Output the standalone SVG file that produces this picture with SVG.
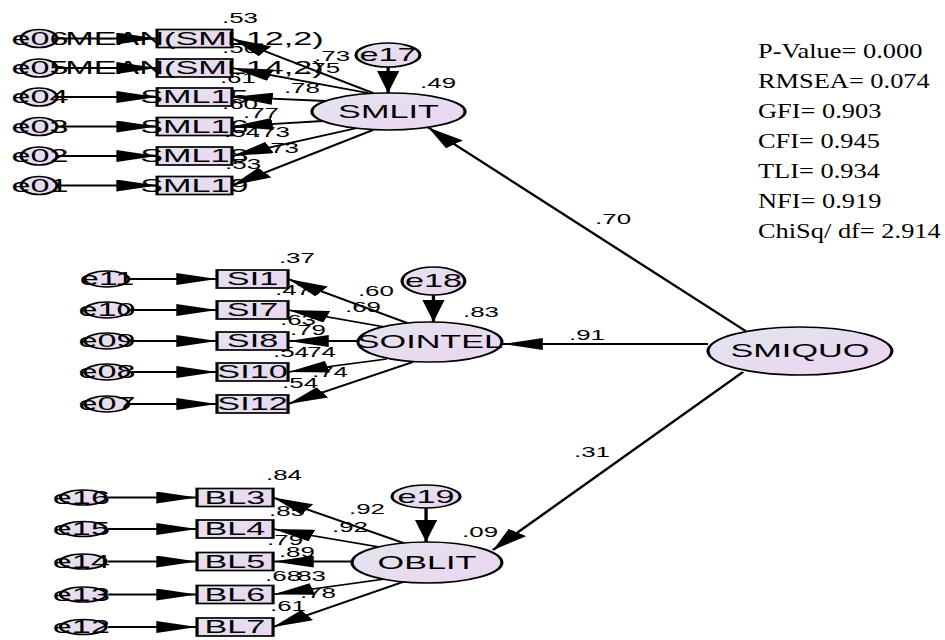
<svg xmlns="http://www.w3.org/2000/svg" width="945" height="640" viewBox="0 0 945 640">
<defs>
<linearGradient id="g" x1="0" y1="0" x2="1" y2="1">
<stop offset="0" stop-color="#e3e6ef"/>
<stop offset="1" stop-color="#ecd3f1"/>
</linearGradient>
<marker id="ah" markerUnits="userSpaceOnUse" viewBox="0 0 22 12" markerWidth="22" markerHeight="12" refX="22" refY="6" orient="auto">
<path d="M0,0 L22,6 L0,12 Z" fill="#000"/>
</marker>
</defs>
<style>
.n{fill:url(#g);stroke:#000;stroke-width:1.7}
.c{stroke:#000;stroke-width:1.8;fill:none;marker-end:url(#ah)}
.t{font-family:"Liberation Sans",Arial,sans-serif;font-size:18.5px;text-anchor:middle;fill:#000}
.v{font-family:"Liberation Sans",Arial,sans-serif;font-size:14px;text-anchor:middle;fill:#000}
.f{font-family:"Liberation Serif","Times New Roman",serif;font-size:22px;fill:#000}
</style>
<rect width="945" height="640" fill="#fff"/>
<g transform="scale(1.85,1)">
<g id="estimates">
<text x="129.7" y="23" class="v">.53</text>
<text x="179.5" y="61" class="v">.73</text>
<text x="129.7" y="53" class="v">.56</text>
<text x="174.1" y="73" class="v">.75</text>
<text x="128.6" y="83" class="v">.61</text>
<text x="163.2" y="93" class="v">.78</text>
<text x="129.7" y="109" class="v">.60</text>
<text x="141.1" y="118" class="v">.77</text>
<text x="130.8" y="137" class="v">.54</text>
<text x="147" y="137" class="v">.73</text>
<text x="151.9" y="153" class="v">.73</text>
<text x="131.4" y="169" class="v">.53</text>
<text x="236.8" y="88" class="v">.49</text>
<text x="160.5" y="263" class="v">.37</text>
<text x="203.2" y="296" class="v">.60</text>
<text x="158.4" y="295" class="v">.47</text>
<text x="196.2" y="312" class="v">.69</text>
<text x="161.1" y="325" class="v">.63</text>
<text x="166.5" y="335" class="v">.79</text>
<text x="157.3" y="357" class="v">.54</text>
<text x="171.9" y="357" class="v">.74</text>
<text x="178.4" y="377" class="v">.74</text>
<text x="162.2" y="388" class="v">.54</text>
<text x="260" y="317" class="v">.83</text>
<text x="153.5" y="480" class="v">.84</text>
<text x="198.4" y="514" class="v">.92</text>
<text x="155.1" y="516" class="v">.85</text>
<text x="189.2" y="532" class="v">.92</text>
<text x="154.1" y="545" class="v">.79</text>
<text x="160.5" y="557" class="v">.89</text>
<text x="153" y="581" class="v">.68</text>
<text x="166.5" y="581" class="v">.83</text>
<text x="171.9" y="598" class="v">.78</text>
<text x="155.7" y="611" class="v">.61</text>
<text x="259.5" y="537" class="v">.09</text>
<text x="331.4" y="224" class="v">.70</text>
<text x="317.3" y="340" class="v">.91</text>
<text x="320" y="457" class="v">.31</text>
</g>
<g id="connectors">
<line class="c" x1="30.8" y1="38.5" x2="84.9" y2="38.5"/>
<line class="c" x1="30.8" y1="68" x2="84.9" y2="68"/>
<line class="c" x1="30.8" y1="97" x2="84.9" y2="97"/>
<line class="c" x1="30.8" y1="126.5" x2="84.9" y2="126.5"/>
<line class="c" x1="30.8" y1="156" x2="84.9" y2="156"/>
<line class="c" x1="30.8" y1="185.5" x2="84.9" y2="185.5"/>
<line class="c" x1="201.6" y1="93" x2="125.4" y2="38.5"/>
<line class="c" x1="198.9" y1="93" x2="125.4" y2="68"/>
<line class="c" x1="176" y1="101" x2="125.4" y2="97"/>
<line class="c" x1="174.5" y1="121" x2="125.4" y2="126.5"/>
<line class="c" x1="193" y1="128" x2="125.4" y2="156"/>
<line class="c" x1="201.6" y1="130" x2="125.4" y2="185.5"/>
<line class="c" x1="209.8" y1="67" x2="209.8" y2="93"/>
<line class="c" x1="70.3" y1="279" x2="117.3" y2="279"/>
<line class="c" x1="70.3" y1="310" x2="117.3" y2="310"/>
<line class="c" x1="70.3" y1="341" x2="117.3" y2="341"/>
<line class="c" x1="70.3" y1="372" x2="117.3" y2="372"/>
<line class="c" x1="70.3" y1="404" x2="117.3" y2="404"/>
<line class="c" x1="221.6" y1="324" x2="155.7" y2="279"/>
<line class="c" x1="208" y1="327" x2="155.7" y2="310"/>
<line class="c" x1="193.5" y1="341" x2="155.7" y2="341"/>
<line class="c" x1="209" y1="359" x2="155.7" y2="372"/>
<line class="c" x1="223.2" y1="362" x2="155.7" y2="404"/>
<line class="c" x1="234.3" y1="295" x2="234.3" y2="322"/>
<line class="c" x1="58.4" y1="497.5" x2="106.5" y2="497.5"/>
<line class="c" x1="58.4" y1="529" x2="106.5" y2="529"/>
<line class="c" x1="58.4" y1="561.5" x2="106.5" y2="561.5"/>
<line class="c" x1="58.4" y1="594.5" x2="106.5" y2="594.5"/>
<line class="c" x1="58.4" y1="627" x2="106.5" y2="627"/>
<line class="c" x1="218.9" y1="543.5" x2="147.6" y2="497.5"/>
<line class="c" x1="205" y1="547" x2="147.6" y2="529"/>
<line class="c" x1="190.3" y1="561.5" x2="147.6" y2="561.5"/>
<line class="c" x1="208" y1="579" x2="147.6" y2="594.5"/>
<line class="c" x1="218.5" y1="581.5" x2="147.6" y2="627"/>
<line class="c" x1="230.3" y1="508" x2="230.3" y2="542"/>
<line class="c" x1="403" y1="331" x2="231.5" y2="127.5"/>
<line class="c" x1="382.7" y1="344" x2="271.4" y2="344"/>
<line class="c" x1="401.6" y1="372" x2="266.5" y2="550"/>
</g>
<g id="e06"><ellipse class="n" cx="21.1" cy="38.5" rx="9.7" ry="9"/><text class="t" x="21.6" y="45">e06</text></g>
<g id="e05"><ellipse class="n" cx="21.1" cy="68" rx="9.7" ry="9"/><text class="t" x="21.6" y="74.5">e05</text></g>
<g id="e04"><ellipse class="n" cx="21.1" cy="97" rx="9.7" ry="9"/><text class="t" x="21.6" y="103.5">e04</text></g>
<g id="e03"><ellipse class="n" cx="21.1" cy="126.5" rx="9.7" ry="9"/><text class="t" x="21.6" y="133">e03</text></g>
<g id="e02"><ellipse class="n" cx="21.1" cy="156" rx="9.7" ry="9"/><text class="t" x="21.6" y="162.5">e02</text></g>
<g id="e01"><ellipse class="n" cx="21.1" cy="185.5" rx="9.7" ry="9"/><text class="t" x="21.6" y="192">e01</text></g>
<g id="SML12"><rect class="n" x="84.9" y="29.5" width="40.5" height="18"/><text class="t" x="105.1" y="45">MEAN(SML12,2)</text></g>
<g id="SML14"><rect class="n" x="84.9" y="59" width="40.5" height="18"/><text class="t" x="105.1" y="74.5">MEAN(SML14,2)</text></g>
<g id="SML15"><rect class="n" x="84.9" y="88" width="40.5" height="18"/><text class="t" x="105.1" y="103.5">SML15</text></g>
<g id="SML16"><rect class="n" x="84.9" y="117.5" width="40.5" height="18"/><text class="t" x="105.1" y="133">SML16</text></g>
<g id="SML18"><rect class="n" x="84.9" y="147" width="40.5" height="18"/><text class="t" x="105.1" y="162.5">SML18</text></g>
<g id="SML19"><rect class="n" x="84.9" y="176.5" width="40.5" height="18"/><text class="t" x="105.1" y="192">SML19</text></g>
<g id="e17"><ellipse class="n" cx="209.7" cy="55" rx="17.3" ry="12"/><text class="t" x="209.7" y="61.5">e17</text></g>
<g id="SMLIT"><ellipse class="n" cx="210" cy="111.5" rx="41.4" ry="18.5"/><text class="t" x="210" y="118">SMLIT</text></g>
<g id="e11"><ellipse class="n" cx="57.8" cy="279" rx="11.9" ry="8"/><text class="t" x="57.8" y="285.5">e11</text></g>
<g id="e10"><ellipse class="n" cx="57.8" cy="310" rx="11.9" ry="8"/><text class="t" x="57.8" y="316.5">e10</text></g>
<g id="e09"><ellipse class="n" cx="57.8" cy="341" rx="11.9" ry="8"/><text class="t" x="57.8" y="347.5">e09</text></g>
<g id="e08"><ellipse class="n" cx="57.8" cy="372" rx="11.9" ry="8"/><text class="t" x="57.8" y="378.5">e08</text></g>
<g id="e07"><ellipse class="n" cx="57.8" cy="404" rx="11.9" ry="8"/><text class="t" x="57.8" y="410.5">e07</text></g>
<g id="SI1"><rect class="n" x="117.3" y="270" width="38.4" height="18"/><text class="t" x="136.5" y="285.5">SI1</text></g>
<g id="SI7"><rect class="n" x="117.3" y="301" width="38.4" height="18"/><text class="t" x="136.5" y="316.5">SI7</text></g>
<g id="SI8"><rect class="n" x="117.3" y="332" width="38.4" height="18"/><text class="t" x="136.5" y="347.5">SI8</text></g>
<g id="SI10"><rect class="n" x="117.3" y="363" width="38.4" height="18"/><text class="t" x="136.5" y="378.5">SI10</text></g>
<g id="SI12"><rect class="n" x="117.3" y="395" width="38.4" height="18"/><text class="t" x="136.5" y="410.5">SI12</text></g>
<g id="e18"><ellipse class="n" cx="234.3" cy="281" rx="17" ry="14"/><text class="t" x="234.3" y="287.5">e18</text></g>
<g id="SOINTEL"><ellipse class="n" cx="232.4" cy="342" rx="38.9" ry="20"/><text class="t" x="232.4" y="348.5">SOINTEL</text></g>
<g id="e16"><ellipse class="n" cx="45" cy="497.5" rx="12.4" ry="7.5"/><text class="t" x="44" y="504">e16</text></g>
<g id="e15"><ellipse class="n" cx="45" cy="529" rx="12.4" ry="7.5"/><text class="t" x="44" y="535.5">e15</text></g>
<g id="e14"><ellipse class="n" cx="45" cy="561.5" rx="12.4" ry="7.5"/><text class="t" x="44" y="568">e14</text></g>
<g id="e13"><ellipse class="n" cx="45" cy="594.5" rx="12.4" ry="7.5"/><text class="t" x="44" y="601">e13</text></g>
<g id="e12"><ellipse class="n" cx="45" cy="627" rx="12.4" ry="7.5"/><text class="t" x="44" y="633.5">e12</text></g>
<g id="BL3"><rect class="n" x="106.5" y="488.5" width="41.1" height="18"/><text class="t" x="127" y="504">BL3</text></g>
<g id="BL4"><rect class="n" x="106.5" y="520" width="41.1" height="18"/><text class="t" x="127" y="535.5">BL4</text></g>
<g id="BL5"><rect class="n" x="106.5" y="552.5" width="41.1" height="18"/><text class="t" x="127" y="568">BL5</text></g>
<g id="BL6"><rect class="n" x="106.5" y="585.5" width="41.1" height="18"/><text class="t" x="127" y="601">BL6</text></g>
<g id="BL7"><rect class="n" x="106.5" y="618" width="41.1" height="18"/><text class="t" x="127" y="633.5">BL7</text></g>
<g id="e19"><ellipse class="n" cx="230.3" cy="496.5" rx="18.4" ry="11.5"/><text class="t" x="230.3" y="503">e19</text></g>
<g id="OBLIT"><ellipse class="n" cx="230.8" cy="562.5" rx="40.5" ry="20.5"/><text class="t" x="230.8" y="569">OBLIT</text></g>
<g id="SMIQUO"><ellipse class="n" cx="432.4" cy="351" rx="49.7" ry="24"/><text class="t" x="432.4" y="357.5">SMIQUO</text></g>
</g>
<g id="fit" transform="translate(758,0) scale(1.2,1)">
<text class="f" x="0" y="58.5">P-Value= 0.000</text>
<text class="f" x="0" y="88.5">RMSEA= 0.074</text>
<text class="f" x="0" y="118.5">GFI= 0.903</text>
<text class="f" x="0" y="148.5">CFI= 0.945</text>
<text class="f" x="0" y="178.5">TLI= 0.934</text>
<text class="f" x="0" y="208.5">NFI= 0.919</text>
<text class="f" x="0" y="238.5">ChiSq/ df= 2.914</text>
</g>
</svg>
